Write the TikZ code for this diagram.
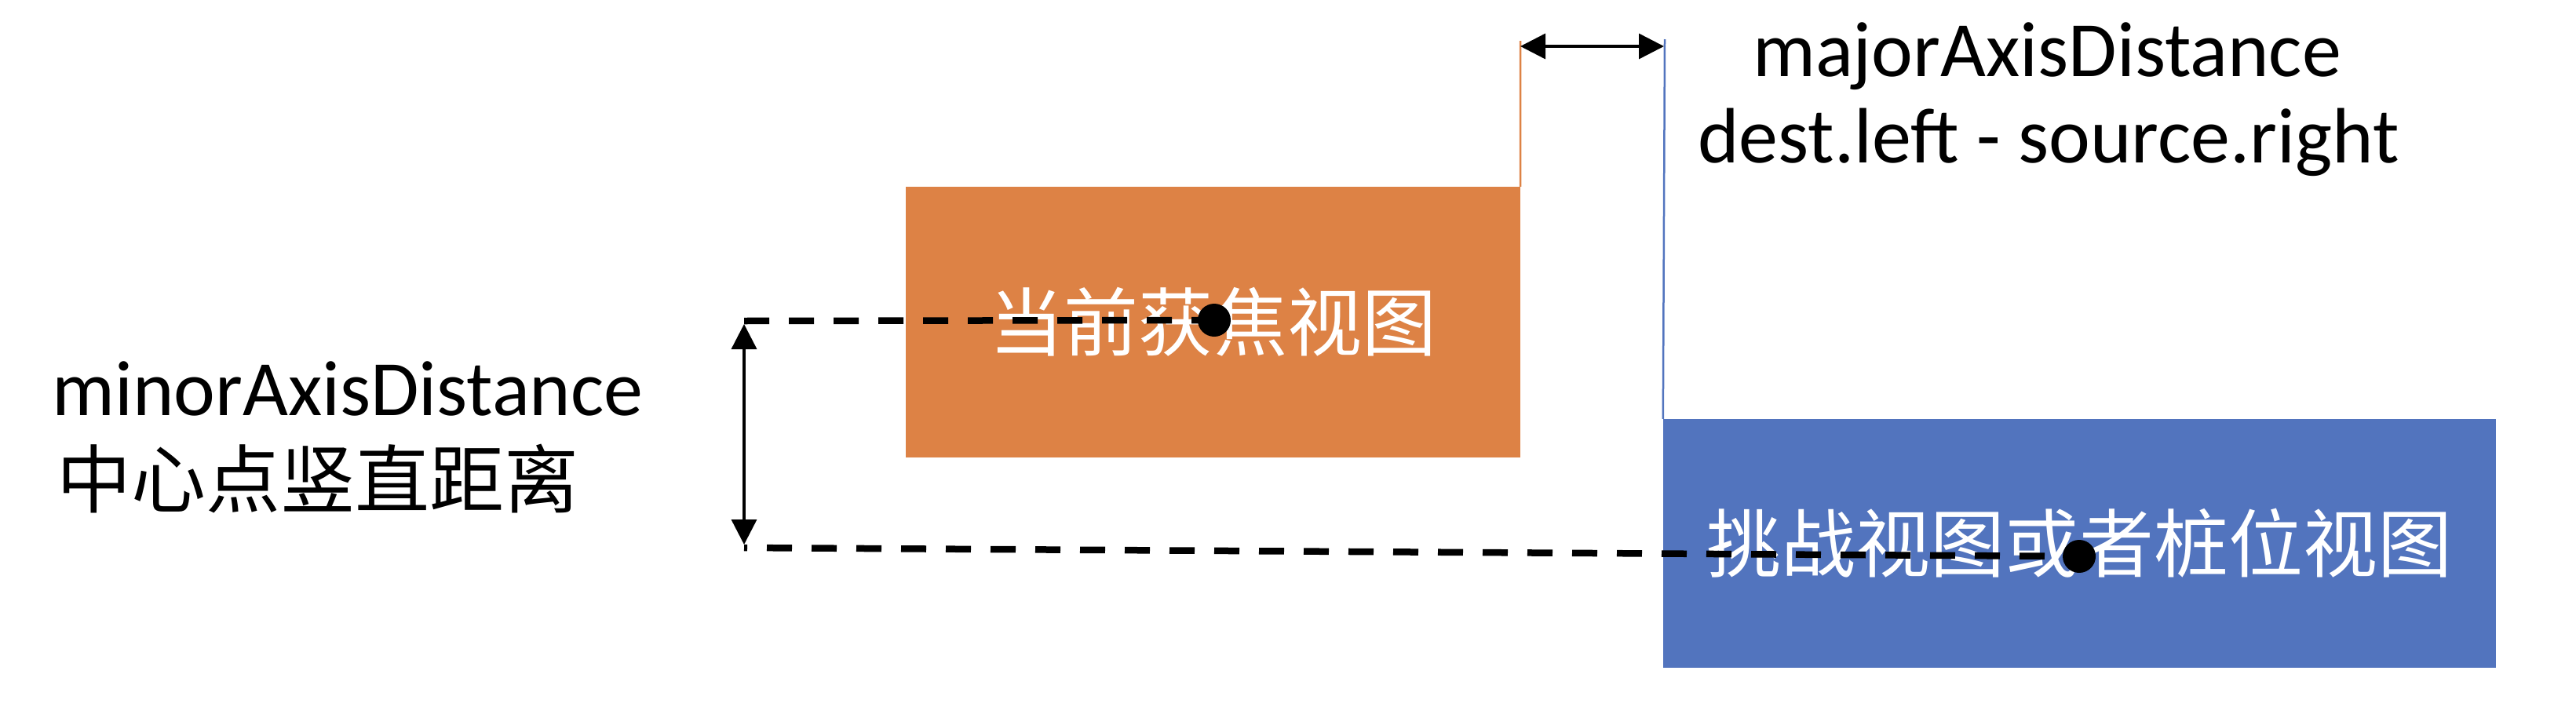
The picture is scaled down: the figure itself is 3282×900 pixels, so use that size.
\documentclass[tikz,border=0pt]{standalone}
\usepackage{fontspec}
\setmainfont{Carlito}
\newfontfamily\cjk{Noto Sans CJK SC}
\usetikzlibrary{arrows.meta}
\definecolor{boxorange}{RGB}{221,130,69}
\definecolor{boxblue}{RGB}{82,116,190}
\begin{document}
\begin{tikzpicture}[x=1pt,y=-1pt,
  box/.style={rectangle,inner sep=0pt,text=white,font=\cjk\fontsize{95}{110}\selectfont},
  lat/.style={inner sep=0pt,font=\fontsize{100}{120}\selectfont},
  cjklbl/.style={inner sep=0pt,font=\cjk\fontsize{95}{110}\selectfont},
  guide/.style={dash pattern=on 32pt off 25pt,line width=8.5pt},
  dimline/.style={line width=3.5pt,{Triangle[length=32pt,width=32pt]}-{Triangle[length=32pt,width=32pt]}},
  dot/.style={circle,fill=black,inner sep=0pt,minimum size=42pt},
  oline/.style={draw=boxorange,line width=2.5pt},
  bline/.style={draw=boxblue,line width=2.5pt}]
\useasboundingbox (0,0) rectangle (3282,900);

% boxes
\node[box,fill=boxorange,minimum width=783pt,minimum height=345pt] (orange) at (1545.5,410.5) {当前获焦视图};
\node[box,fill=boxblue,minimum width=1061pt,minimum height=317pt] (blue) at (2649.5,692.5) {挑战视图或者桩位视图};

% extension lines
\coordinate (otop) at (1937,52);
\coordinate (btop) at (2121,50);
\draw[oline] (orange.north east) -- (otop);
\draw[bline] (blue.north west) -- (btop);

% major distance arrow
\coordinate (mA) at (1937,59);
\coordinate (mB) at (2120,59);
\draw[dimline] (mA) -- (mB);

% guides to the centre dots
\coordinate (c1) at (1547,408);
\coordinate (c2) at (2649,709);
\coordinate (g1) at (948,409);
\coordinate (g2) at (948,698);
\draw[guide] (g1) -- (c1);
\draw[guide,dash phase=28pt] (g2) -- (c2);
\node[dot] (d1) at (c1) {};
\node[dot] (d2) at (c2) {};

% minor distance arrow
\coordinate (nA) at (948,413);
\coordinate (nB) at (948,694);
\draw[dimline] (nA) -- (nB);

% labels
\node[lat,anchor=base] (maj1) at (2608,97) {majorAxisDistance};
\node[lat,anchor=base] (maj2) at (2610,207) {dest.left - source.right};
\node[lat,anchor=base west] (min1) at (66,529) {minorAxisDistance};
\node[cjklbl,anchor=base west] (min2) at (72,646) {中心点竖直距离};
\end{tikzpicture}
\end{document}
